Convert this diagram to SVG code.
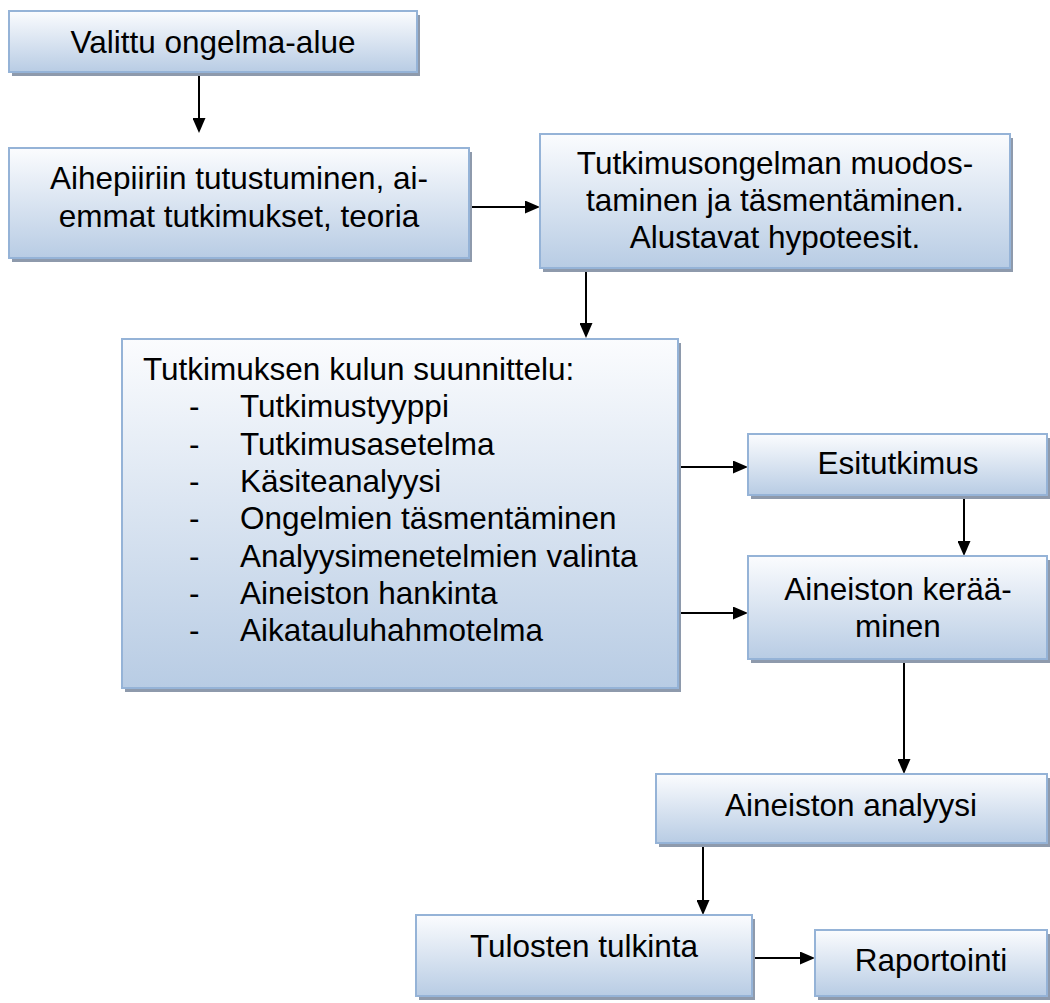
<svg xmlns="http://www.w3.org/2000/svg" width="1050" height="1003" viewBox="0 0 1050 1003">
  <defs>
    <linearGradient id="g" x1="0" y1="0" x2="0" y2="1">
      <stop offset="0" stop-color="#fbfcfe"/>
      <stop offset="1" stop-color="#b8cce4"/>
    </linearGradient>
    <marker id="ah" markerUnits="userSpaceOnUse" markerWidth="15" markerHeight="13" refX="5" refY="6.5" orient="auto">
      <path d="M0,0 L15,6.5 L0,13 z" fill="#000"/>
    </marker>
    <style>
      .sh { fill: #8e9aac; }
      .box { fill: url(#g); stroke: #95b3d7; stroke-width: 2; }
      .t { font-family: "Liberation Sans", Arial, sans-serif; font-size: 31.5px; fill: #000; }
      .c { text-anchor: middle; }
      .ln { stroke: #000; stroke-width: 2; fill: none; marker-end: url(#ah); }
    </style>
  </defs>
  <rect width="1050" height="1003" fill="#ffffff"/>

  <g id="connectors">
    <line class="ln" x1="199" y1="72" x2="199" y2="123"/>
    <line class="ln" x1="469" y1="207" x2="530" y2="207"/>
    <line class="ln" x1="586" y1="268" x2="586" y2="328"/>
    <line class="ln" x1="678" y1="467" x2="738" y2="467"/>
    <line class="ln" x1="678" y1="613" x2="738" y2="613"/>
    <line class="ln" x1="964" y1="495" x2="964" y2="546"/>
    <line class="ln" x1="904" y1="659" x2="904" y2="764"/>
    <line class="ln" x1="703" y1="843" x2="703" y2="905"/>
    <line class="ln" x1="752" y1="958" x2="805" y2="958"/>
  </g>

  <g id="n1">
    <rect class="sh" x="12" y="15" width="408" height="61"/>
    <rect class="box" x="9" y="11" width="408" height="61"/>
    <text class="t c" x="213" y="53">Valittu ongelma-alue</text>
  </g>

  <g id="n2">
    <rect class="sh" x="12" y="152" width="460" height="110"/>
    <rect class="box" x="9" y="148" width="460" height="110"/>
    <text class="t c" x="239" y="189">Aihepiiriin tutustuminen, ai-</text>
    <text class="t c" x="239" y="227">emmat tutkimukset, teoria</text>
  </g>

  <g id="n3">
    <rect class="sh" x="543" y="138" width="470" height="134"/>
    <rect class="box" x="540" y="134" width="470" height="134"/>
    <text class="t c" x="775" y="174">Tutkimusongelman muodos-</text>
    <text class="t c" x="775" y="211">taminen ja täsmentäminen.</text>
    <text class="t c" x="775" y="248">Alustavat hypoteesit.</text>
  </g>

  <g id="n4">
    <rect class="sh" x="125" y="343" width="556" height="349"/>
    <rect class="box" x="122" y="339" width="556" height="349"/>
    <text class="t" x="143" y="380">Tutkimuksen kulun suunnittelu:</text>
    <text class="t" x="189" y="417">-</text><text class="t" x="240" y="417">Tutkimustyyppi</text>
    <text class="t" x="189" y="455">-</text><text class="t" x="240" y="455">Tutkimusasetelma</text>
    <text class="t" x="189" y="492">-</text><text class="t" x="240" y="492">Käsiteanalyysi</text>
    <text class="t" x="189" y="529">-</text><text class="t" x="240" y="529">Ongelmien täsmentäminen</text>
    <text class="t" x="189" y="567">-</text><text class="t" x="240" y="567">Analyysimenetelmien valinta</text>
    <text class="t" x="189" y="604">-</text><text class="t" x="240" y="604">Aineiston hankinta</text>
    <text class="t" x="189" y="641">-</text><text class="t" x="240" y="641">Aikatauluhahmotelma</text>
  </g>

  <g id="n5">
    <rect class="sh" x="751" y="438" width="299" height="61"/>
    <rect class="box" x="748" y="434" width="299" height="61"/>
    <text class="t c" x="898" y="474">Esitutkimus</text>
  </g>

  <g id="n6">
    <rect class="sh" x="751" y="560" width="299" height="103"/>
    <rect class="box" x="748" y="556" width="299" height="103"/>
    <text class="t c" x="898" y="600">Aineiston kerää-</text>
    <text class="t c" x="898" y="637">minen</text>
  </g>

  <g id="n7">
    <rect class="sh" x="659" y="778" width="391" height="69"/>
    <rect class="box" x="656" y="774" width="391" height="69"/>
    <text class="t c" x="851" y="816">Aineiston analyysi</text>
  </g>

  <g id="n8">
    <rect class="sh" x="419" y="919" width="336" height="81"/>
    <rect class="box" x="416" y="915" width="336" height="81"/>
    <text class="t c" x="584" y="957">Tulosten tulkinta</text>
  </g>

  <g id="n9">
    <rect class="sh" x="818" y="934" width="232" height="66"/>
    <rect class="box" x="815" y="930" width="232" height="66"/>
    <text class="t c" x="931" y="971">Raportointi</text>
  </g>
</svg>
